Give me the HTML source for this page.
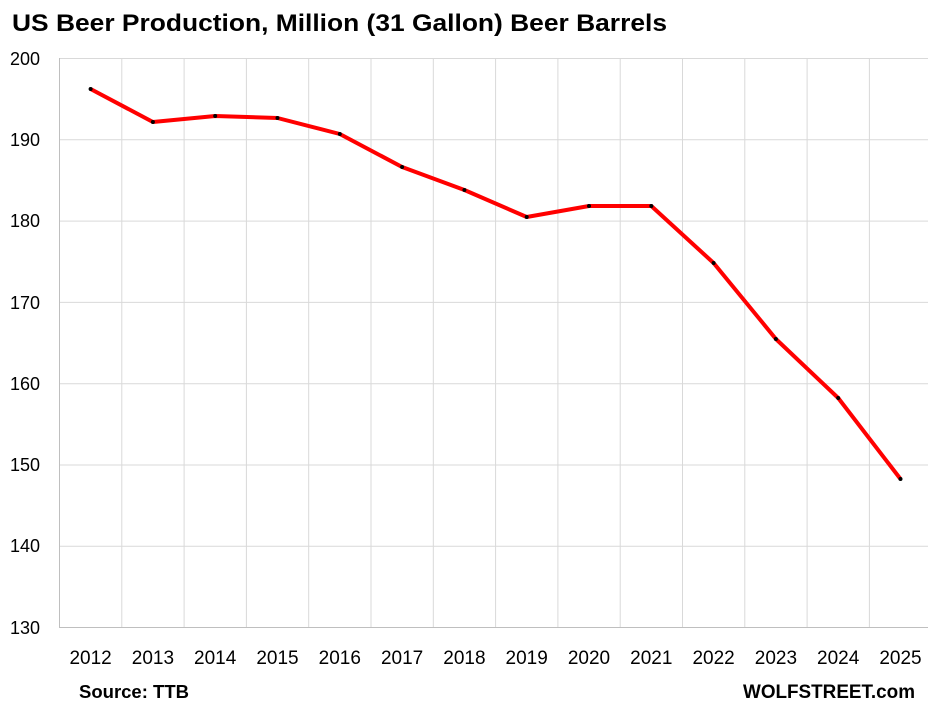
<!DOCTYPE html>
<html><head><style>
body{margin:0;background:#fff;}
svg{display:block;font-family:"Liberation Sans",Arial,sans-serif;}
</style></head><body>
<svg width="928" height="709" viewBox="0 0 928 709">
<text x="12" y="31" font-size="24" font-weight="bold" fill="#000" textLength="655" lengthAdjust="spacingAndGlyphs">US Beer Production, Million (31 Gallon) Beer Barrels</text>
<g stroke="#d9d9d9" stroke-width="1">
<line x1="59" y1="58.5" x2="928" y2="58.5"/>
<line x1="59" y1="139.8" x2="928" y2="139.8"/>
<line x1="59" y1="221.1" x2="928" y2="221.1"/>
<line x1="59" y1="302.4" x2="928" y2="302.4"/>
<line x1="59" y1="383.7" x2="928" y2="383.7"/>
<line x1="59" y1="465" x2="928" y2="465"/>
<line x1="59" y1="546.3" x2="928" y2="546.3"/>
<line x1="121.8" y1="58" x2="121.8" y2="627"/>
<line x1="184.1" y1="58" x2="184.1" y2="627"/>
<line x1="246.4" y1="58" x2="246.4" y2="627"/>
<line x1="308.7" y1="58" x2="308.7" y2="627"/>
<line x1="371" y1="58" x2="371" y2="627"/>
<line x1="433.3" y1="58" x2="433.3" y2="627"/>
<line x1="495.6" y1="58" x2="495.6" y2="627"/>
<line x1="557.9" y1="58" x2="557.9" y2="627"/>
<line x1="620.2" y1="58" x2="620.2" y2="627"/>
<line x1="682.5" y1="58" x2="682.5" y2="627"/>
<line x1="744.8" y1="58" x2="744.8" y2="627"/>
<line x1="807.1" y1="58" x2="807.1" y2="627"/>
<line x1="869.4" y1="58" x2="869.4" y2="627"/>
</g>
<line x1="59.5" y1="58" x2="59.5" y2="627" stroke="#bfbfbf"/>
<line x1="59" y1="627.5" x2="928" y2="627.5" stroke="#bfbfbf"/>
<g font-size="18" fill="#000" text-anchor="end">
<text x="40" y="65">200</text><text x="40" y="146">190</text><text x="40" y="227">180</text>
<text x="40" y="309">170</text><text x="40" y="390">160</text><text x="40" y="471">150</text>
<text x="40" y="552">140</text><text x="40" y="634">130</text>
</g>
<g font-size="19" fill="#000" text-anchor="middle">
<text x="90.6" y="664">2012</text><text x="152.9" y="664">2013</text><text x="215.2" y="664">2014</text>
<text x="277.5" y="664">2015</text><text x="339.8" y="664">2016</text><text x="402.1" y="664">2017</text>
<text x="464.4" y="664">2018</text><text x="526.7" y="664">2019</text><text x="589" y="664">2020</text>
<text x="651.3" y="664">2021</text><text x="713.6" y="664">2022</text><text x="775.9" y="664">2023</text>
<text x="838.2" y="664">2024</text><text x="900.5" y="664">2025</text>
</g>
<polyline fill="none" stroke="#ff0000" stroke-width="4" stroke-linejoin="round" points="90.6,89 152.9,122 215.2,116 277.5,118 339.8,134 402.1,167 464.4,190 526.7,217 589,206 651.3,206 713.6,263 775.9,339 838.2,398 900.5,479"/>
<g fill="#000">
<circle cx="90.6" cy="89" r="2"/><circle cx="152.9" cy="122" r="2"/><circle cx="215.2" cy="116" r="2"/>
<circle cx="277.5" cy="118" r="2"/><circle cx="339.8" cy="134" r="2"/><circle cx="402.1" cy="167" r="2"/>
<circle cx="464.4" cy="190" r="2"/><circle cx="526.7" cy="217" r="2"/><circle cx="589" cy="206" r="2"/>
<circle cx="651.3" cy="206" r="2"/><circle cx="713.6" cy="263" r="2"/><circle cx="775.9" cy="339" r="2"/>
<circle cx="838.2" cy="398" r="2"/><circle cx="900.5" cy="479" r="2"/>
</g>
<text x="79" y="698" font-size="18" font-weight="bold" fill="#000" textLength="110" lengthAdjust="spacingAndGlyphs">Source: TTB</text>
<text x="743" y="698" font-size="19" font-weight="bold" fill="#000" textLength="172" lengthAdjust="spacingAndGlyphs">WOLFSTREET.com</text>
</svg>
</body></html>
